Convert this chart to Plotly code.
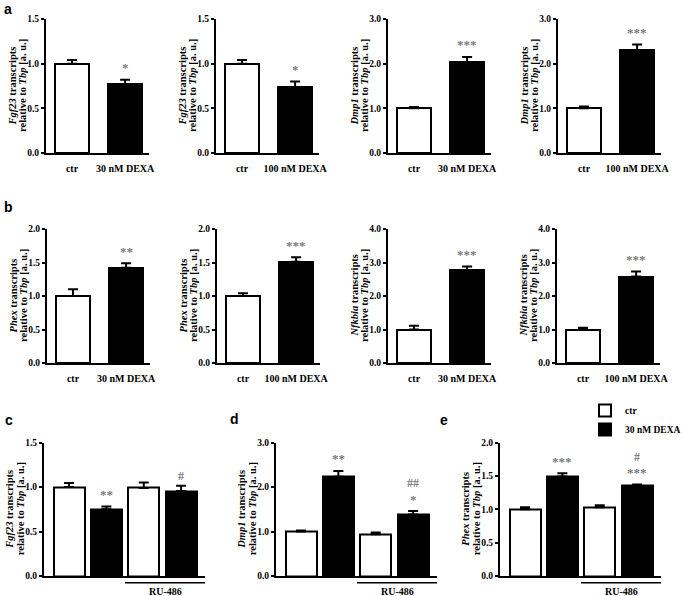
import plotly.graph_objects as go

W, H = 685, 596

# ---------------- data ----------------
cat30 = ["ctr", "30 nM DEXA"]
cat100 = ["ctr", "100 nM DEXA"]

fgf23_30_mean = [1.00, 0.77]
fgf23_30_sem = [0.04, 0.05]
fgf23_30_sig = ["", "*"]

fgf23_100_mean = [1.00, 0.74]
fgf23_100_sem = [0.04, 0.06]
fgf23_100_sig = ["", "*"]

dmp1_30_mean = [1.00, 2.04]
dmp1_30_sem = [0.03, 0.11]
dmp1_30_sig = ["", "***"]

dmp1_100_mean = [1.00, 2.30]
dmp1_100_sem = [0.04, 0.13]
dmp1_100_sig = ["", "***"]

phex_30_mean = [1.00, 1.42]
phex_30_sem = [0.10, 0.07]
phex_30_sig = ["", "**"]

phex_100_mean = [1.00, 1.51]
phex_100_sem = [0.04, 0.07]
phex_100_sig = ["", "***"]

nfkbia_30_mean = [1.00, 2.77]
nfkbia_30_sem = [0.11, 0.11]
nfkbia_30_sig = ["", "***"]

nfkbia_100_mean = [1.00, 2.58]
nfkbia_100_sem = [0.05, 0.15]
nfkbia_100_sig = ["", "***"]

# c-e: groups (vehicle / RU-486) x treatment (ctr / 30 nM DEXA)
ru_groups = ["vehicle", "RU-486"]
treatments = ["ctr", "30 nM DEXA"]

fgf23_ru_ctr = [1.00, 0.99]
fgf23_ru_ctr_sem = [0.045, 0.06]
fgf23_ru_dexa = [0.75, 0.955]
fgf23_ru_dexa_sem = [0.03, 0.06]
fgf23_ru_sig = [["**"], ["#"]]

dmp1_ru_ctr = [1.00, 0.94]
dmp1_ru_ctr_sem = [0.02, 0.04]
dmp1_ru_dexa = [2.23, 1.38]
dmp1_ru_dexa_sem = [0.13, 0.08]
dmp1_ru_sig = [["**"], ["*", "##"]]

phex_ru_ctr = [1.00, 1.03]
phex_ru_ctr_sem = [0.03, 0.03]
phex_ru_dexa = [1.49, 1.35]
phex_ru_dexa_sem = [0.05, 0.02]
phex_ru_sig = [["***"], ["***", "#"]]

fgf23_ticks = [0, 0.5, 1.0, 1.5]
dmp1_ticks = [0, 1, 2, 3]
phex_ticks = [0, 0.5, 1.0, 1.5, 2.0]
nfkbia_ticks = [0, 1, 2, 3, 4]

# ---------------- styling / layout ----------------
SERIF = "Liberation Serif"
SANS = "Liberation Sans"
SIGCOL = "#7a7a7a"
ROW_A = (19, 153)
ROW_B = (229, 363)
ROW_C = (442.5, 576)

fig = go.Figure()
layout = dict(
    template="none",
    width=W, height=H, margin=dict(l=0, r=0, t=0, b=0, autoexpand=False),
    paper_bgcolor="white", plot_bgcolor="white",
    bargap=0, showlegend=True,
)
annotations = []
shapes = []


def ydom(row):
    t, b = row
    return [1 - b / H, 1 - t / H]


def axis_setup(i, L, R, row, ticks, xlabels=True, xrange=None, xtype=None):
    xa = dict(domain=[L / W, R / W], anchor=f"y{i}", range=xrange, automargin=False,
              showline=True, linewidth=2, linecolor="black", mirror=False,
              showgrid=False, zeroline=False, fixedrange=True,
              ticks="outside" if xlabels else "", ticklen=5, tickcolor="rgba(0,0,0,0)",
              showticklabels=xlabels,
              tickfont=dict(family=SERIF, size=10, color="black", weight="bold"))
    if xtype:
        xa["type"] = xtype
    ya = dict(domain=ydom(row), anchor=f"x{i}", range=[0, ticks[-1]], automargin=False,
              showline=True, linewidth=2, linecolor="black",
              showgrid=False, zeroline=False, fixedrange=True,
              ticks="outside", ticklen=3, tickwidth=2, tickcolor="black",
              tickvals=ticks, tickformat=".1f",
              tickfont=dict(family=SERIF, size=9.5, color="black", weight="bold"))
    sfx = "" if i == 1 else str(i)
    layout["xaxis" + sfx] = xa
    layout["yaxis" + sfx] = ya


def ytitle(i, gene):
    for txt, shift in ((f"<i>{gene}</i> transcripts", -34.5),
                       ("relative to <i>Tbp</i> [a. u.]", -24)):
        annotations.append(dict(
            text=txt, textangle=-90, showarrow=False,
            xref=f"x{i} domain" if i > 1 else "x domain", x=0, xshift=shift, xanchor="center",
            yref=f"y{i} domain" if i > 1 else "y domain", y=0.5, yanchor="middle",
            font=dict(family=SERIF, size=10.5, color="black", weight="bold")))


def sig_labels(i, xval, top, labels):
    center = None
    for lab in labels:
        if not lab:
            continue
        star = "*" in lab
        if center is None:
            center = 14 if star else 10
        else:
            center += 14
        annotations.append(dict(
            text=lab, showarrow=False,
            xref=f"x{i}" if i > 1 else "x", x=xval,
            yref=f"y{i}" if i > 1 else "y", y=top, yanchor="middle",
            yshift=center - (2 if star else 0),
            font=dict(family=SERIF, size=13 if star else 12, color=SIGCOL, weight="bold")))


# two-bar panels (a, b)
two_panels = [
    (1, 46, ROW_A, "Fgf23", fgf23_ticks, cat30, fgf23_30_mean, fgf23_30_sem, fgf23_30_sig),
    (2, 216, ROW_A, "Fgf23", fgf23_ticks, cat100, fgf23_100_mean, fgf23_100_sem, fgf23_100_sig),
    (3, 388, ROW_A, "Dmp1", dmp1_ticks, cat30, dmp1_30_mean, dmp1_30_sem, dmp1_30_sig),
    (4, 558, ROW_A, "Dmp1", dmp1_ticks, cat100, dmp1_100_mean, dmp1_100_sem, dmp1_100_sig),
    (5, 47, ROW_B, "Phex", phex_ticks, cat30, phex_30_mean, phex_30_sem, phex_30_sig),
    (6, 217, ROW_B, "Phex", phex_ticks, cat100, phex_100_mean, phex_100_sem, phex_100_sig),
    (7, 388, ROW_B, "Nfkbia", nfkbia_ticks, cat30, nfkbia_30_mean, nfkbia_30_sem, nfkbia_30_sig),
    (8, 557, ROW_B, "Nfkbia", nfkbia_ticks, cat100, nfkbia_100_mean, nfkbia_100_sem, nfkbia_100_sig),
]

for i, L, row, gene, ticks, cats, mean, sem, sig in two_panels:
    axis_setup(i, L, L + 103, row, ticks, True, [-0.49, 1.45], "category")
    fig.add_trace(go.Bar(
        x=cats, y=mean, width=0.64,
        marker=dict(color=["white", "black"], line=dict(color="black", width=2)),
        error_y=dict(type="data", array=sem, arrayminus=[0] * len(sem), symmetric=False,
                     color="black", thickness=2, width=5),
        xaxis=f"x{i}" if i > 1 else "x", yaxis=f"y{i}" if i > 1 else "y",
        showlegend=False, hoverinfo="skip"))
    ytitle(i, gene)
    for c, m, s, lab in zip(cats, mean, sem, sig):
        sig_labels(i, c, m + s, [lab])

# four-bar panels (c, d, e)
four_panels = [
    (9, 44, "Fgf23", fgf23_ticks, fgf23_ru_ctr, fgf23_ru_ctr_sem, fgf23_ru_dexa, fgf23_ru_dexa_sem, fgf23_ru_sig, False),
    (10, 276, "Dmp1", dmp1_ticks, dmp1_ru_ctr, dmp1_ru_ctr_sem, dmp1_ru_dexa, dmp1_ru_dexa_sem, dmp1_ru_sig, False),
    (11, 500, "Phex", phex_ticks, phex_ru_ctr, phex_ru_ctr_sem, phex_ru_dexa, phex_ru_dexa_sem, phex_ru_sig, True),
]
XR4 = [-0.67, 3.64]
for i, L, gene, ticks, cm, cs, dm, ds, sig, leg in four_panels:
    axis_setup(i, L, L + 161, ROW_C, ticks, False, XR4)
    for t, (vals, errs, col) in enumerate(((cm, cs, "white"), (dm, ds, "black"))):
        xs = [2 * g + t for g in range(len(ru_groups))]
        fig.add_trace(go.Bar(
            x=xs, y=vals, width=0.83, name=treatments[t],
            marker=dict(color=col, line=dict(color="black", width=2)),
            error_y=dict(type="data", array=errs, arrayminus=[0] * len(errs), symmetric=False,
                         color="black", thickness=2, width=5),
            xaxis=f"x{i}", yaxis=f"y{i}", showlegend=leg, legendgroup=treatments[t],
            hoverinfo="skip"))
    ytitle(i, gene)
    for g in range(len(ru_groups)):
        sig_labels(i, 2 * g + 1, dm[g] + ds[g], sig[g])
    # RU-486 bracket under the last two bars
    shapes.append(dict(type="line", xref=f"x{i}", yref=f"y{i} domain",
                       x0=1.5, x1=XR4[1], y0=-0.05, y1=-0.05,
                       line=dict(color="black", width=1.5)))
    annotations.append(dict(text=ru_groups[1], showarrow=False,
                            xref=f"x{i}", x=(1.5 + XR4[1]) / 2,
                            yref=f"y{i} domain", y=-0.115, yanchor="middle",
                            font=dict(family=SERIF, size=10, color="black", weight="bold")))

# panel letters (glyph tops ~2, 200, 414, 412, 414 px)
for letter, px, ptop in (("a", 3, 0), ("b", 3, 198), ("c", 4, 411), ("d", 229, 410), ("e", 439, 411)):
    annotations.append(dict(text=letter, showarrow=False, xref="paper", yref="paper",
                            x=px / W, y=1 - ptop / H, xanchor="left", yanchor="top",
                            borderpad=0,
                            font=dict(family=SANS, size=14, color="black", weight="bold")))

layout["annotations"] = annotations
layout["shapes"] = shapes
layout["legend"] = dict(x=585 / W, y=1 - 396 / H, xanchor="left", yanchor="top",
                        bgcolor="rgba(0,0,0,0)", borderwidth=0, tracegroupgap=0,
                        font=dict(family=SERIF, size=9.5, color="black", weight="bold"))
fig.update_layout(**layout)
fig.write_html("out.html", config={"displayModeBar": False},
               post_script="document.body.style.margin='0';document.body.style.padding='0';")
